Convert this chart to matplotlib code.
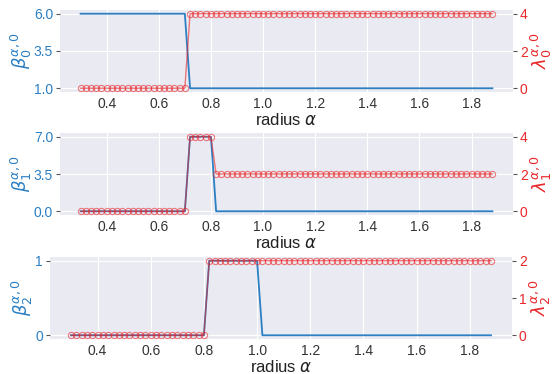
import numpy as np
import matplotlib
matplotlib.use("Agg")
import matplotlib.pyplot as plt

plt.rcParams['font.family'] = ['Liberation Sans', 'DejaVu Sans']
plt.rcParams['mathtext.fontset'] = 'dejavusans'

# radius grid 0.30 .. 1.88 (step 0.02, 80 points)
radius = [round(0.30 + 0.02 * i, 2) for i in range(80)]

# Betti numbers (left axis) and eigenvalue counts (right axis)
beta0 = [6] * 21 + [1] * 59
lam0 = [0] * 21 + [4] * 59
beta1 = [0] * 21 + [7] * 5 + [0] * 54
lam1 = [0] * 21 + [4] * 5 + [2] * 54
beta2 = [0] * 26 + [1] * 10 + [0] * 44
lam2 = [0] * 26 + [2] * 54

betas = [beta0, beta1, beta2]
lams = [lam0, lam1, lam2]
beta_ticks = [[1.0, 3.5, 6.0], [0.0, 3.5, 7.0], [0, 1]]
beta_ticklabels = [['1.0', '3.5', '6.0'], ['0.0', '3.5', '7.0'], ['0', '1']]
lam_ticks = [[0, 2, 4], [0, 2, 4], [0, 1, 2]]

blue = '#2b7fc3'
red = '#e8282b'
W, H = 556, 374
boxes = [(60, 10, 513, 92), (60, 133, 513, 215), (50, 257, 512, 339)]

fig = plt.figure(figsize=(5.56, 3.74), dpi=100)
for k in range(3):
    x0, y0, x1, y1 = boxes[k]
    ax = fig.add_axes([x0 / W, 1 - y1 / H, (x1 - x0) / W, (y1 - y0) / H])
    ax.set_facecolor('#EAEAF2')
    for s in ax.spines.values():
        s.set_visible(False)
    ax.grid(True, color='white', linewidth=0.8)
    ax.set_axisbelow(True)
    ax.plot(radius, betas[k], color=blue, linewidth=1.3, zorder=3)
    ax.set_yticks(beta_ticks[k])
    ax.set_yticklabels(beta_ticklabels[k])
    lo, hi = min(betas[k]), max(betas[k])
    pad = (hi - lo) * 0.05
    ax.set_ylim(lo - pad, hi + pad)
    ax.set_xticks([0.4, 0.6, 0.8, 1.0, 1.2, 1.4, 1.6, 1.8])
    ax.tick_params(axis='y', colors=blue, labelsize=10, length=3, color='#555555', pad=2)
    ax.tick_params(axis='x', colors='#333333', labelsize=10, length=0)
    ax.set_ylabel(r'$\beta_{%d}^{\alpha,0}$' % k, color=blue, fontsize=13, labelpad=0)
    ax.set_xlabel(r'radius $\alpha$', color='#222222', fontsize=12, labelpad=1)

    ax2 = ax.twinx()
    for s in ax2.spines.values():
        s.set_visible(False)
    ax2.plot(radius, lams[k], color=red, alpha=0.6, linewidth=1.0, marker='o',
             markersize=4.5, markerfacecolor='none', markeredgewidth=0.8, zorder=4)
    llo, lhi = min(lams[k]), max(lams[k])
    lpad = (lhi - llo) * 0.05
    ax2.set_ylim(llo - lpad, lhi + lpad)
    ax2.set_yticks(lam_ticks[k])
    ax2.grid(False)
    ax2.tick_params(axis='y', colors=red, labelsize=10, length=3, color='#555555', pad=2)
    ax2.set_ylabel(r'$\lambda_{%d}^{\alpha,0}$' % k, color=red, fontsize=13, labelpad=0)

fig.savefig('out.png', dpi=100)
